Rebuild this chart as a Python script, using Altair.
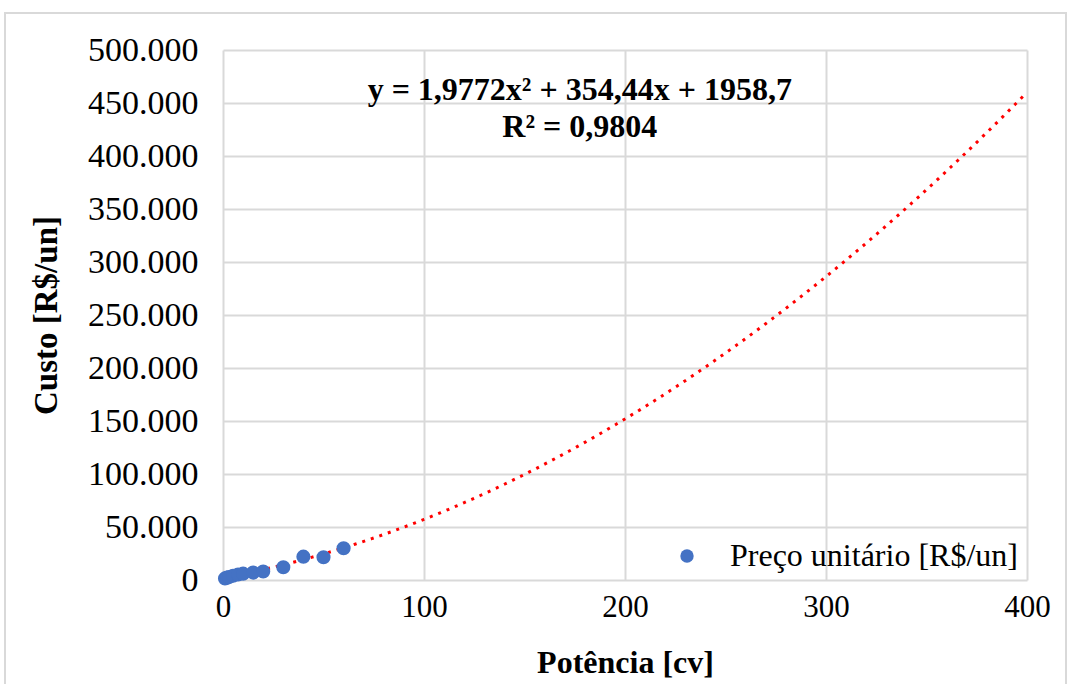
import altair as alt
import pandas as pd

# Measured data points (Potência [cv] vs Custo [R$/un])
potencia = [1, 2, 3, 5, 7.5, 10, 15, 20, 30, 40, 50, 60]
custo = [1500, 2200, 2800, 4000, 5200, 6000, 7000, 8000, 12000, 22000, 21500, 30000]
serie = "Preço unitário [R$/un]"

# Trendline coefficients (as shown in the chart equation)
coef_a, coef_b, coef_c = 1.9772, 354.44, 1958.7
trend_range = [0, 400]

# Annotation texts and their positions in data units
annot_text = ["y = 1,9772x² + 354,44x + 1958,7", "R² = 0,9804"]
annot_x = [177.5, 177.5]
annot_y = [462000, 427000]

FONT = "Liberation Serif"
GRID = "#d9d9d9"

df = pd.DataFrame({"Potência": potencia, "Custo": custo, "serie": [serie] * len(potencia)})
annot = pd.DataFrame({"t": annot_text, "x": annot_x, "y": annot_y})

xscale = alt.Scale(domain=[0, 400], nice=False)
yscale = alt.Scale(domain=[0, 500000], nice=False)

xaxis = alt.Axis(values=[0, 100, 200, 300, 400], title="Potência [cv]", grid=True,
                 domain=False, ticks=False, labelPadding=12, titlePadding=25,
                 labelFontSize=31, titleFontSize=32, labelFlush=False,
                 labelFont=FONT, titleFont=FONT, labelColor="#000000", titleColor="#000000",
                 titleFontWeight="bold", gridColor=GRID, gridWidth=2)
yaxis = alt.Axis(values=list(range(0, 500001, 50000)), format=",.0f", title="Custo [R$/un]",
                 grid=True, domain=False, ticks=False, labelPadding=25, titleX=-160,
                 labelFontSize=34, titleFontSize=33, labelFlush=False,
                 labelFont=FONT, titleFont=FONT, labelColor="#000000", titleColor="#000000",
                 titleFontWeight="bold", gridColor=GRID, gridWidth=2)

trend = alt.Chart(alt.sequence(trend_range[0], trend_range[1] + 1, 2, as_="x")).transform_calculate(
    y=f"{coef_a}*datum.x*datum.x + {coef_b}*datum.x + {coef_c}"
).mark_line(color="#ff0000", strokeWidth=3, strokeDash=[3, 6]).encode(
    x=alt.X("x:Q", scale=xscale, axis=xaxis),
    y=alt.Y("y:Q", scale=yscale, axis=yaxis),
)

points = alt.Chart(df).mark_circle(size=200, opacity=1).encode(
    x=alt.X("Potência:Q", scale=xscale),
    y=alt.Y("Custo:Q", scale=yscale),
    color=alt.Color("serie:N", scale=alt.Scale(range=["#4472c4"]),
                    legend=alt.Legend(title=None, orient="none", legendX=448, legendY=490,
                                      labelFontSize=32, labelFont=FONT, symbolSize=180,
                                      labelOffset=27, padding=0, symbolType="circle",
                                      labelColor="#000000", labelLimit=0)),
)

text = alt.Chart(annot).mark_text(font=FONT, fontSize=32, fontWeight="bold", color="#000000").encode(
    x=alt.X("x:Q", scale=xscale),
    y=alt.Y("y:Q", scale=yscale),
    text="t:N",
)

frame = alt.Chart(annot).mark_rect(fillOpacity=0, stroke=GRID, strokeWidth=2).encode(
    x=alt.value(-218), x2=alt.value(843), y=alt.value(-37), y2=alt.value(700)
)

chart = alt.layer(frame, trend, points, text).properties(
    width=804, height=530,
    autosize=alt.AutoSizeParams(type="none"),
    padding={"left": 223, "top": 50, "right": 45, "bottom": 104},
    background="white",
).configure(
    locale={"number": {"decimal": ",", "thousands": ".", "grouping": [3], "currency": ["R$", ""]}}
).configure_view(stroke=None)

chart.save("out.html", embed_options={"renderer": "svg", "actions": False})
